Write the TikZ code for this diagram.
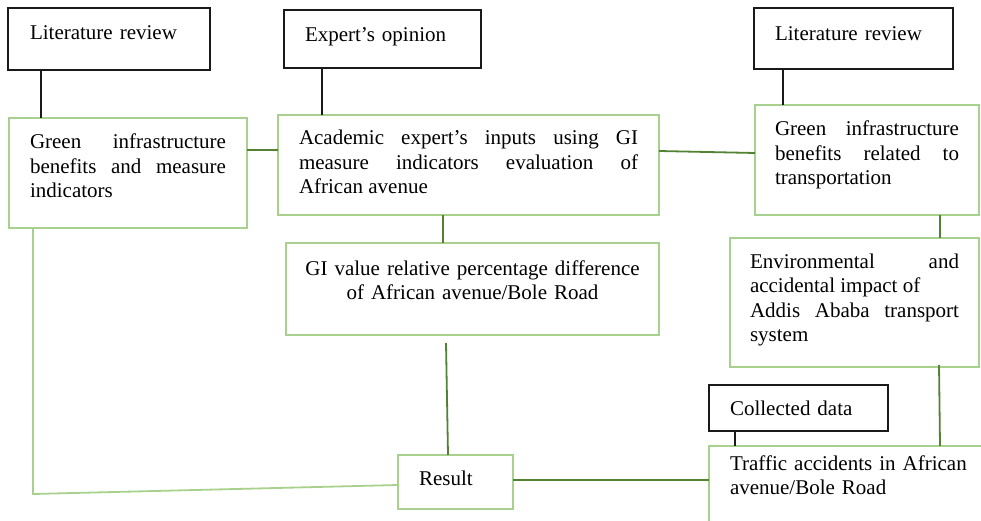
\documentclass[tikz,border=0pt]{standalone}
\usepackage{fontspec}
\setmainfont{Liberation Serif}
\usepackage{xcolor}
\usepackage{tikz}
\definecolor{ink}{HTML}{1A1A1A}
\definecolor{lgreen}{HTML}{A9D18E}
\definecolor{dgreen}{HTML}{548235}
\hyphenpenalty=10000
\tikzset{
  srcbox/.style={draw=ink, line width=1.8pt, anchor=north west, inner ysep=0pt, outer sep=0pt, align=left},
  gbox/.style={draw=lgreen, line width=1.8pt, anchor=north west, inner ysep=0pt, outer sep=0pt, align=justify},
  blk/.style={draw=ink, line width=1.8pt},
  link/.style={draw=dgreen, line width=1.8pt},
  lglink/.style={draw=lgreen, line width=1.8pt}
}
\begin{document}
\begin{tikzpicture}[x=1pt, y=-1pt, font=\fontsize{21}{24.5}\selectfont]
  \clip (0,0) rectangle (981,521);
  \useasboundingbox (0,0) rectangle (981,521);
  % sources (black boxes)
  \node[srcbox, inner xsep=22pt, text width=158pt, text height=32pt, text depth=30pt] (litA) at (8,8) {Literature review};
  \node[srcbox, inner xsep=21pt, text width=155pt, text height=32pt, text depth=26pt] (expert) at (284,10) {Expert’s opinion};
  \node[srcbox, inner xsep=21pt, text width=157pt, text height=33pt, text depth=28pt] (litB) at (754,8) {Literature review};
  \node[srcbox, inner xsep=21pt, text width=137pt, text height=30pt, text depth=16pt] (collected) at (709,385) {Collected data};
  % green boxes
  \node[gbox, inner xsep=21pt, text width=196pt, text height=31pt, text depth=79pt] (gib) at (9,118)
    {Green infrastructure benefits and measure indicators};
  \node[gbox, inner xsep=21pt, text width=339pt, text height=30pt, text depth=70pt] (acad) at (278,115)
    {Academic expert’s inputs using GI measure indicators evaluation of\linebreak African avenue};
  \node[gbox, inner xsep=20pt, text width=184pt, text height=31pt, text depth=79pt] (git) at (755,105)
    {Green infrastructure benefits related to transportation};
  \node[gbox, inner xsep=20pt, text width=209pt, text height=30pt, text depth=99pt] (env) at (730,238)
    {Environmental and\linebreak accidental impact of\\ Addis Ababa transport system};
  \node[gbox, align=center, inner xsep=18pt, text width=337pt, text height=32pt, text depth=60pt] (giv) at (286,243)
    {GI value relative percentage difference\\ of African avenue/Bole Road};
  \node[gbox, align=left, inner xsep=21pt, text width=73pt, text height=30pt, text depth=24pt] (result) at (398,455) {Result};
  \node[gbox, align=left, inner xsep=21pt, text width=320pt, text height=24pt, text depth=76pt] (traffic) at (709,446)
    {Traffic accidents in African\\ avenue/Bole Road};
  % black connectors
  \draw[blk] ([xshift=33pt]litA.south west) -- ([xshift=32pt]gib.north west);
  \draw[blk] ([xshift=38pt]expert.south west) -- ([xshift=44pt]acad.north west);
  \draw[blk] ([xshift=29pt]litB.south west) -- ([xshift=28pt]git.north west);
  \draw[blk] ([xshift=26pt]collected.south west) -- ([xshift=26pt]traffic.north west);
  % green connectors
  \draw[link] ([yshift=-32pt]gib.north east) -- ([yshift=-35pt]acad.north west);
  \draw[link] ([yshift=-36pt]acad.north east) -- ([yshift=-48pt]git.north west);
  \draw[link] ([xshift=165pt]acad.south west) -- ([xshift=157pt]giv.north west);
  \draw[link] ([xshift=160pt,yshift=-8pt]giv.south west) -- ([xshift=50pt]result.north west);
  \draw[link] ([xshift=185pt]git.south west) -- ([xshift=210pt]env.north west);
  \draw[link] ([xshift=209pt,yshift=2pt]env.south west) -- ([xshift=231pt]traffic.north west);
  \draw[link] ([yshift=-25pt]result.north east) -- ([yshift=-34pt]traffic.north west);
  \coordinate (bend) at (33,494);
  \draw[lglink] ([xshift=24pt]gib.south west) -- (bend) -- ([yshift=-30pt]result.north west);
\end{tikzpicture}
\end{document}
